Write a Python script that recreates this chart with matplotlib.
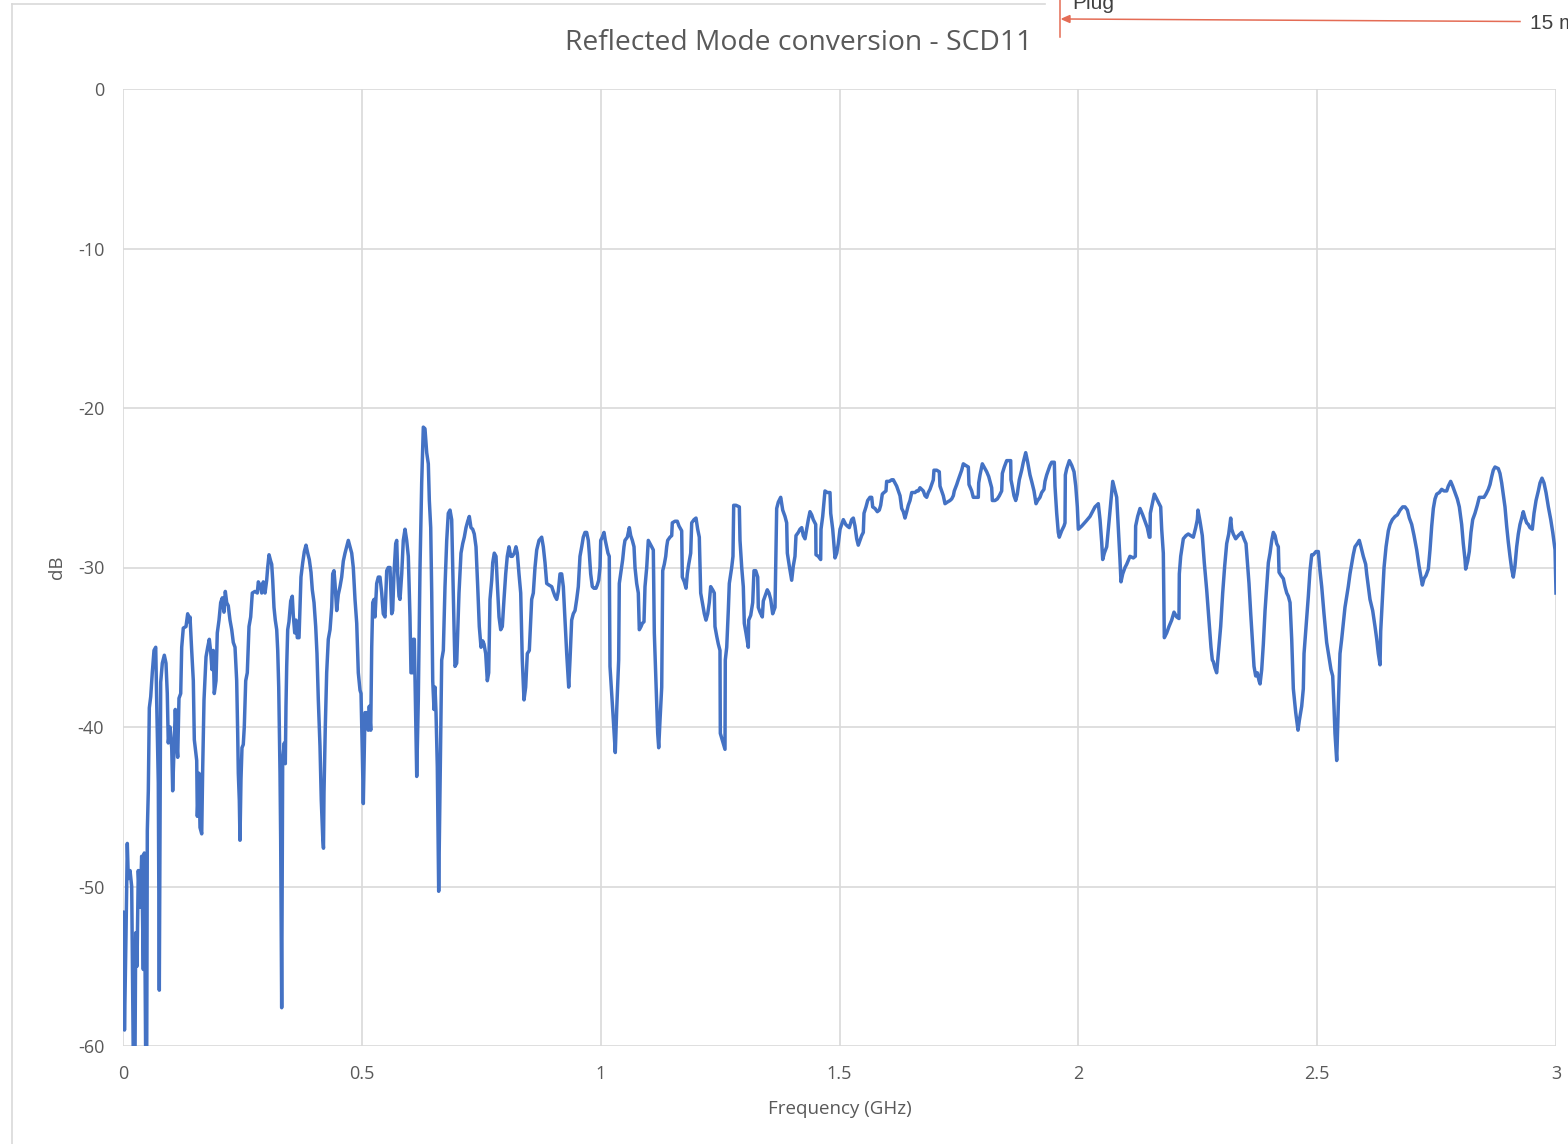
import numpy as np
import matplotlib
matplotlib.use("Agg")
import matplotlib.pyplot as plt
from matplotlib.lines import Line2D

plt.rcParams['font.family'] = ['Open Sans', 'DejaVu Sans']

# SCD11 sweep, split into 0.5 GHz bands (frequency in GHz, level in dB)
freq_1 = [0.0000, 0.0010, 0.0031, 0.0063, 0.0090, 0.0111, 0.0147, 0.0182, 0.0216, 0.0251,
          0.0266, 0.0293, 0.0320, 0.0356, 0.0391, 0.0425, 0.0446, 0.0475, 0.0496, 0.0509,
          0.0530, 0.0551, 0.0580, 0.0613, 0.0649, 0.0685, 0.0706, 0.0739, 0.0760, 0.0789,
          0.0823, 0.0865, 0.0900, 0.0927, 0.0948, 0.0984, 0.1020, 0.1040, 0.1068, 0.1095,
          0.1124, 0.1145, 0.1172, 0.1208, 0.1229, 0.1262, 0.1319, 0.1354, 0.1382, 0.1403,
          0.1438, 0.1472, 0.1493, 0.1543, 0.1556, 0.1591, 0.1612, 0.1648, 0.1669, 0.1696,
          0.1738, 0.1773, 0.1807, 0.1836, 0.1863, 0.1890, 0.1911, 0.1947, 0.1974, 0.2010,
          0.2045, 0.2079, 0.2114, 0.2142, 0.2171, 0.2204, 0.2240, 0.2276, 0.2309, 0.2345,
          0.2380, 0.2401, 0.2414, 0.2435, 0.2449, 0.2470, 0.2491, 0.2518, 0.2539, 0.2569,
          0.2602, 0.2638, 0.2673, 0.2707, 0.2763, 0.2812, 0.2833, 0.2883, 0.2904, 0.2937,
          0.2973, 0.3008, 0.3029, 0.3057, 0.3092, 0.3113, 0.3134, 0.3161, 0.3188, 0.3218,
          0.3239, 0.3260, 0.3272, 0.3287, 0.3301, 0.3322, 0.3343, 0.3377, 0.3398, 0.3412,
          0.3427, 0.3448, 0.3475, 0.3511, 0.3544, 0.3565, 0.3595, 0.3622, 0.3649, 0.3685,
          0.3705, 0.3726, 0.3762, 0.3796, 0.3831, 0.3867, 0.3900, 0.3936, 0.3963, 0.3999,
          0.4034, 0.4061, 0.4089, 0.4124, 0.4151, 0.4181, 0.4197, 0.4208, 0.4235, 0.4264,
          0.4298, 0.4334, 0.4369, 0.4390, 0.4417, 0.4438, 0.4474, 0.4507, 0.4543, 0.4578,
          0.4612, 0.4648, 0.4683, 0.4717, 0.4752, 0.4788, 0.4821, 0.4857, 0.4893, 0.4926,
          0.4962, 0.4983]
db_1 = [-58.2, -51.6, -59.0, -53.0, -47.3, -49.5, -49.0, -50.0, -61.0, -61.0,
        -52.9, -55.0, -49.0, -51.3, -48.1, -55.2, -47.9, -61.0, -61.0, -46.5,
        -44.0, -38.8, -38.1, -36.6, -35.2, -35.0, -38.5, -43.5, -56.5, -37.2,
        -36.0, -35.5, -36.0, -37.9, -41.0, -40.0, -41.3, -44.0, -41.4, -38.9,
        -41.0, -41.9, -38.2, -37.9, -35.0, -33.8, -33.7, -32.9, -33.4, -33.1,
        -35.2, -37.1, -40.8, -42.1, -45.6, -42.9, -46.3, -46.7, -42.5, -38.3,
        -35.6, -35.0, -34.5, -35.3, -36.4, -35.2, -37.9, -37.1, -34.1, -33.3,
        -32.2, -31.9, -32.8, -31.5, -32.2, -32.4, -33.3, -33.9, -34.7, -35.0,
        -37.1, -40.4, -42.9, -44.6, -47.1, -43.3, -41.3, -41.1, -40.0, -37.1,
        -36.6, -33.7, -33.1, -31.6, -31.5, -31.6, -30.9, -31.2, -31.6, -30.9,
        -31.6, -30.8, -30.0, -29.2, -29.6, -29.8, -30.8, -32.5, -33.3, -33.9,
        -35.2, -37.5, -40.0, -42.9, -47.1, -57.6, -42.1, -41.0, -42.3, -38.7,
        -36.2, -33.9, -33.4, -32.1, -31.8, -33.0, -34.1, -33.3, -34.4, -34.4,
        -32.5, -30.6, -29.7, -29.0, -28.6, -29.1, -29.5, -30.3, -31.4, -32.2,
        -33.7, -35.4, -38.3, -41.2, -44.6, -46.9, -47.6, -44.1, -40.0, -36.6,
        -34.5, -33.9, -32.5, -30.4, -30.2, -31.0, -32.7, -31.7, -31.2, -30.6,
        -29.6, -29.1, -28.7, -28.3, -28.7, -29.1, -30.0, -32.0, -33.5, -36.6,
        -37.7, -37.9]

freq_2 = [0.5010, 0.5031, 0.5066, 0.5102, 0.5135, 0.5156, 0.5186, 0.5207, 0.5228, 0.5255,
          0.5276, 0.5311, 0.5345, 0.5380, 0.5416, 0.5449, 0.5485, 0.5521, 0.5554, 0.5590,
          0.5625, 0.5646, 0.5673, 0.5709, 0.5730, 0.5751, 0.5778, 0.5799, 0.5835, 0.5868,
          0.5904, 0.5939, 0.5973, 0.6008, 0.6029, 0.6057, 0.6078, 0.6099, 0.6149, 0.6182,
          0.6218, 0.6253, 0.6287, 0.6322, 0.6358, 0.6392, 0.6413, 0.6442, 0.6463, 0.6484,
          0.6511, 0.6532, 0.6553, 0.6580, 0.6609, 0.6672, 0.6706, 0.6741, 0.6777, 0.6810,
          0.6846, 0.6881, 0.6902, 0.6930, 0.6950, 0.6986, 0.7007, 0.7034, 0.7076, 0.7112,
          0.7145, 0.7181, 0.7217, 0.7250, 0.7285, 0.7321, 0.7354, 0.7390, 0.7426, 0.7459,
          0.7495, 0.7530, 0.7558, 0.7593, 0.7627, 0.7656, 0.7683, 0.7719, 0.7740, 0.7773,
          0.7809, 0.7836, 0.7872, 0.7907, 0.7941, 0.7976, 0.8012, 0.8045, 0.8081, 0.8117,
          0.8150, 0.8192, 0.8227, 0.8255, 0.8290, 0.8326, 0.8359, 0.8395, 0.8430, 0.8464,
          0.8506, 0.8556, 0.8590, 0.8625, 0.8661, 0.8709, 0.8765, 0.8799, 0.8835, 0.8870,
          0.8918, 0.8975, 0.9008, 0.9044, 0.9080, 0.9113, 0.9149, 0.9184, 0.9218, 0.9253,
          0.9289, 0.9331, 0.9358, 0.9393, 0.9427, 0.9463, 0.9498, 0.9532, 0.9567, 0.9603,
          0.9636, 0.9672, 0.9707, 0.9741, 0.9762, 0.9791, 0.9825, 0.9860, 0.9902, 0.9929,
          0.9959, 0.9986]
db_2 = [-41.6, -44.8, -39.1, -39.1, -40.2, -38.7, -40.2, -35.0, -32.2, -32.0,
        -33.1, -31.0, -30.6, -30.6, -31.6, -32.9, -33.1, -30.2, -30.0, -30.0,
        -32.9, -32.7, -30.4, -28.5, -28.3, -30.4, -31.8, -32.0, -30.4, -28.3,
        -27.6, -28.3, -29.3, -33.1, -36.6, -36.6, -34.5, -34.5, -43.1, -38.3,
        -30.0, -24.7, -21.2, -21.3, -22.8, -23.5, -25.8, -27.5, -31.6, -37.1,
        -38.9, -37.5, -39.1, -42.5, -50.3, -35.8, -35.2, -31.2, -28.3, -26.6,
        -26.4, -27.0, -30.0, -33.7, -36.2, -36.0, -34.0, -31.6, -29.1, -28.5,
        -28.1, -27.5, -27.1, -26.8, -27.5, -27.6, -27.9, -28.7, -31.2, -33.7,
        -35.0, -34.6, -34.8, -35.4, -37.1, -36.6, -32.0, -30.8, -29.7, -29.1,
        -29.3, -31.0, -33.1, -33.9, -33.7, -32.0, -30.4, -29.3, -28.7, -29.3,
        -29.3, -29.1, -28.7, -29.1, -30.4, -31.6, -35.8, -38.3, -37.5, -35.4,
        -35.2, -32.0, -31.6, -30.0, -28.9, -28.3, -28.1, -28.7, -29.7, -31.0,
        -31.1, -31.2, -31.5, -31.8, -32.0, -31.5, -30.4, -30.4, -31.2, -33.3,
        -35.4, -37.5, -35.8, -33.3, -32.9, -32.7, -32.0, -31.2, -29.3, -28.7,
        -28.1, -27.8, -27.8, -28.3, -29.1, -30.4, -31.2, -31.3, -31.3, -31.1,
        -30.8, -30.0]

freq_3 = [1.0001, 1.0034, 1.0070, 1.0097, 1.0126, 1.0153, 1.0180, 1.0195, 1.0231, 1.0264,
          1.0306, 1.0336, 1.0377, 1.0390, 1.0419, 1.0461, 1.0488, 1.0509, 1.0558, 1.0600,
          1.0629, 1.0663, 1.0698, 1.0719, 1.0754, 1.0788, 1.0809, 1.0845, 1.0872, 1.0907,
          1.0928, 1.0964, 1.0997, 1.1033, 1.1068, 1.1102, 1.1123, 1.1158, 1.1194, 1.1215,
          1.1242, 1.1278, 1.1299, 1.1332, 1.1362, 1.1382, 1.1403, 1.1451, 1.1487, 1.1500,
          1.1556, 1.1604, 1.1640, 1.1696, 1.1709, 1.1751, 1.1787, 1.1814, 1.1843, 1.1885,
          1.1906, 1.1954, 1.1996, 1.2031, 1.2065, 1.2094, 1.2136, 1.2170, 1.2205, 1.2241,
          1.2274, 1.2303, 1.2345, 1.2379, 1.2393, 1.2429, 1.2463, 1.2498, 1.2505, 1.2555,
          1.2603, 1.2609, 1.2639, 1.2672, 1.2693, 1.2743, 1.2770, 1.2785, 1.2833, 1.2903,
          1.2917, 1.2953, 1.2986, 1.3007, 1.3042, 1.3091, 1.3099, 1.3141, 1.3183, 1.3210,
          1.3246, 1.3288, 1.3300, 1.3336, 1.3384, 1.3405, 1.3440, 1.3488, 1.3524, 1.3560,
          1.3601, 1.3650, 1.3685, 1.3719, 1.3769, 1.3811, 1.3859, 1.3894, 1.3908, 1.3949,
          1.3999, 1.4033, 1.4068, 1.4089, 1.4138, 1.4173, 1.4209, 1.4242, 1.4278, 1.4313,
          1.4347, 1.4382, 1.4418, 1.4451, 1.4502, 1.4508, 1.4557, 1.4606, 1.4613, 1.4648,
          1.4696, 1.4745, 1.4801, 1.4816, 1.4858, 1.4906, 1.4942, 1.4975]
db_3 = [-28.3, -28.1, -27.8, -28.3, -28.7, -29.1, -29.3, -36.2, -37.9, -39.5,
        -41.6, -38.9, -35.8, -31.0, -30.4, -29.5, -28.7, -28.3, -28.1, -27.5,
        -28.0, -28.3, -28.7, -30.0, -31.0, -31.6, -33.9, -33.7, -33.5, -33.4,
        -31.2, -30.0, -28.3, -28.5, -28.7, -28.9, -34.1, -37.3, -40.4, -41.3,
        -39.6, -37.5, -30.2, -29.8, -29.3, -28.7, -28.3, -28.1, -28.0, -27.2,
        -27.1, -27.1, -27.4, -27.7, -30.6, -30.9, -31.3, -30.4, -29.8, -29.1,
        -27.2, -27.0, -26.9, -27.6, -28.1, -31.6, -32.3, -32.9, -33.3, -32.9,
        -32.2, -31.2, -31.4, -31.6, -33.7, -34.3, -34.8, -35.2, -40.4, -40.9,
        -41.4, -35.8, -35.0, -32.7, -31.0, -30.0, -29.3, -26.1, -26.1, -26.2,
        -28.3, -30.0, -31.2, -33.5, -34.1, -35.0, -33.3, -33.0, -32.2, -30.2,
        -30.2, -30.6, -32.5, -32.8, -33.1, -32.1, -31.8, -31.4, -31.6, -32.0,
        -32.9, -32.5, -26.3, -25.9, -25.6, -26.4, -26.8, -27.2, -29.1, -29.9,
        -30.8, -29.9, -29.3, -28.0, -27.8, -27.6, -27.5, -28.0, -28.2, -27.6,
        -27.0, -26.5, -26.7, -27.0, -27.3, -29.2, -29.3, -29.5, -27.6, -26.8,
        -25.2, -25.3, -25.3, -26.6, -27.6, -29.4, -29.1, -28.5]

freq_4 = [1.5011, 1.5046, 1.5080, 1.5130, 1.5163, 1.5205, 1.5255, 1.5289, 1.5324, 1.5360,
          1.5393, 1.5429, 1.5464, 1.5498, 1.5513, 1.5555, 1.5590, 1.5638, 1.5674, 1.5695,
          1.5743, 1.5792, 1.5833, 1.5862, 1.5896, 1.5931, 1.5973, 1.5987, 1.6043, 1.6093,
          1.6126, 1.6162, 1.6197, 1.6231, 1.6267, 1.6302, 1.6336, 1.6371, 1.6407, 1.6440,
          1.6476, 1.6512, 1.6581, 1.6616, 1.6650, 1.6685, 1.6721, 1.6754, 1.6790, 1.6825,
          1.6859, 1.6894, 1.6930, 1.6964, 1.6978, 1.7035, 1.7089, 1.7104, 1.7139, 1.7173,
          1.7209, 1.7257, 1.7313, 1.7349, 1.7383, 1.7403, 1.7454, 1.7487, 1.7523, 1.7558,
          1.7592, 1.7642, 1.7697, 1.7711, 1.7767, 1.7801, 1.7858, 1.7906, 1.7914, 1.7941,
          1.7990, 1.8046, 1.8082, 1.8124, 1.8151, 1.8186, 1.8200, 1.8255, 1.8304, 1.8346,
          1.8395, 1.8409, 1.8450, 1.8500, 1.8548, 1.8584, 1.8590, 1.8617, 1.8653, 1.8689,
          1.8722, 1.8764, 1.8814, 1.8848, 1.8898, 1.8940, 1.8988, 1.9023, 1.9072, 1.9114,
          1.9149, 1.9197, 1.9233, 1.9281, 1.9302, 1.9337, 1.9371, 1.9407, 1.9442, 1.9497,
          1.9511, 1.9547, 1.9580, 1.9601, 1.9651, 1.9700, 1.9721, 1.9728, 1.9757, 1.9812,
          1.9862, 1.9910, 1.9946, 1.9979]
db_4 = [-27.6, -27.3, -27.0, -27.3, -27.4, -27.5, -27.0, -26.9, -27.4, -28.2,
        -28.6, -28.3, -28.0, -27.8, -26.6, -26.2, -25.8, -25.6, -25.6, -26.2,
        -26.3, -26.5, -26.4, -26.1, -25.4, -25.3, -25.2, -24.6, -24.6, -24.5,
        -24.5, -24.7, -24.9, -25.2, -25.5, -26.3, -26.5, -26.9, -26.5, -26.1,
        -25.8, -25.3, -25.3, -25.2, -25.2, -25.0, -25.1, -25.2, -25.5, -25.6,
        -25.3, -25.1, -24.8, -24.5, -23.9, -23.9, -24.0, -24.9, -25.2, -25.5,
        -26.0, -25.9, -25.8, -25.7, -25.5, -25.2, -24.8, -24.5, -24.2, -23.9,
        -23.5, -23.6, -23.7, -24.8, -25.2, -25.6, -25.6, -25.6, -24.7, -24.2,
        -23.5, -23.8, -24.0, -24.3, -24.6, -25.0, -25.8, -25.8, -25.7, -25.5,
        -25.2, -24.1, -23.7, -23.3, -23.3, -23.3, -24.5, -24.9, -25.5, -25.8,
        -25.4, -24.5, -23.9, -23.4, -22.8, -23.4, -24.2, -24.6, -25.2, -26.0,
        -25.8, -25.6, -25.3, -25.1, -24.6, -24.2, -23.9, -23.6, -23.4, -23.4,
        -24.9, -26.6, -27.8, -28.1, -27.7, -27.4, -27.2, -24.2, -23.8, -23.3,
        -23.6, -24.0, -24.9, -26.2]

freq_5 = [2.0000, 2.0071, 2.0160, 2.0244, 2.0349, 2.0418, 2.0454, 2.0489, 2.0510, 2.0544,
          2.0594, 2.0628, 2.0663, 2.0720, 2.0753, 2.0803, 2.0837, 2.0872, 2.0893, 2.0929,
          2.0977, 2.1012, 2.1081, 2.1151, 2.1193, 2.1200, 2.1242, 2.1291, 2.1347, 2.1395,
          2.1444, 2.1486, 2.1500, 2.1507, 2.1549, 2.1591, 2.1640, 2.1674, 2.1724, 2.1745,
          2.1779, 2.1800, 2.1850, 2.1898, 2.1954, 2.2003, 2.2059, 2.2107, 2.2114, 2.2143,
          2.2198, 2.2254, 2.2302, 2.2352, 2.2407, 2.2457, 2.2491, 2.2505, 2.2547, 2.2595,
          2.2637, 2.2687, 2.2735, 2.2777, 2.2805, 2.2826, 2.2861, 2.2896, 2.2930, 2.2980,
          2.3022, 2.3064, 2.3106, 2.3148, 2.3190, 2.3211, 2.3244, 2.3294, 2.3349, 2.3420,
          2.3468, 2.3510, 2.3525, 2.3573, 2.3609, 2.3642, 2.3678, 2.3713, 2.3747, 2.3783,
          2.3804, 2.3839, 2.3873, 2.3909, 2.3944, 2.3978, 2.4013, 2.4049, 2.4082, 2.4118,
          2.4153, 2.4187, 2.4202, 2.4244, 2.4292, 2.4327, 2.4363, 2.4396, 2.4432, 2.4467,
          2.4501, 2.4551, 2.4599, 2.4626, 2.4676, 2.4710, 2.4725, 2.4767, 2.4815, 2.4850,
          2.4886, 2.4919, 2.4976]
db_5 = [-27.6, -27.4, -27.1, -26.8, -26.2, -26.0, -27.0, -28.4, -29.5, -29.1,
        -28.7, -27.6, -26.4, -24.6, -25.0, -25.6, -27.5, -29.5, -30.9, -30.4,
        -30.0, -29.8, -29.3, -29.4, -29.3, -27.4, -26.8, -26.3, -26.7, -27.1,
        -27.5, -28.1, -28.1, -26.6, -26.0, -25.4, -25.7, -25.9, -26.2, -27.6,
        -29.1, -34.4, -34.1, -33.7, -33.3, -32.8, -33.1, -33.2, -30.4, -29.3,
        -28.2, -28.0, -27.9, -28.0, -28.1, -27.5, -27.0, -26.4, -27.1, -28.0,
        -29.7, -31.4, -33.3, -35.0, -35.8, -35.9, -36.3, -36.6, -35.4, -33.7,
        -31.6, -29.9, -28.5, -27.9, -26.9, -27.6, -27.9, -28.2, -28.0, -27.8,
        -28.2, -28.5, -29.1, -31.0, -32.9, -34.5, -36.2, -36.8, -36.6, -37.1,
        -37.3, -36.4, -34.8, -32.7, -31.2, -29.7, -29.1, -28.3, -27.8, -28.0,
        -28.5, -28.7, -30.3, -30.5, -30.7, -31.2, -31.6, -31.8, -32.2, -34.5,
        -37.6, -39.1, -40.2, -39.6, -38.7, -37.6, -35.4, -33.7, -31.8, -30.2,
        -29.2, -29.2, -29.0]

freq_6 = [2.5024, 2.5059, 2.5095, 2.5143, 2.5199, 2.5247, 2.5289, 2.5325, 2.5352, 2.5373,
          2.5409, 2.5442, 2.5478, 2.5513, 2.5547, 2.5582, 2.5618, 2.5651, 2.5687, 2.5722,
          2.5756, 2.5792, 2.5840, 2.5882, 2.5917, 2.5966, 2.6016, 2.6037, 2.6071, 2.6106,
          2.6162, 2.6211, 2.6247, 2.6280, 2.6316, 2.6330, 2.6364, 2.6400, 2.6442, 2.6490,
          2.6526, 2.6574, 2.6631, 2.6679, 2.6735, 2.6791, 2.6839, 2.6888, 2.6930, 2.6979,
          2.7028, 2.7084, 2.7132, 2.7174, 2.7202, 2.7237, 2.7279, 2.7327, 2.7362, 2.7398,
          2.7432, 2.7467, 2.7503, 2.7557, 2.7607, 2.7655, 2.7712, 2.7745, 2.7795, 2.7837,
          2.7886, 2.7934, 2.7976, 2.8025, 2.8059, 2.8095, 2.8109, 2.8151, 2.8185, 2.8220,
          2.8256, 2.8304, 2.8352, 2.8394, 2.8444, 2.8492, 2.8534, 2.8583, 2.8618, 2.8654,
          2.8687, 2.8723, 2.8792, 2.8827, 2.8863, 2.8896, 2.8932, 2.8967, 2.9001, 2.9037,
          2.9072, 2.9106, 2.9141, 2.9177, 2.9211, 2.9246, 2.9282, 2.9315, 2.9351, 2.9386,
          2.9420, 2.9455, 2.9504, 2.9540, 2.9582, 2.9630, 2.9665, 2.9707, 2.9749, 2.9791,
          2.9840, 2.9890, 2.9932, 2.9980, 3.0000]
db_6 = [-29.0, -30.2, -31.2, -32.9, -34.7, -35.6, -36.4, -36.8, -38.7, -40.4,
        -42.1, -38.7, -35.4, -34.5, -33.5, -32.5, -31.8, -31.2, -30.4, -29.8,
        -29.2, -28.7, -28.5, -28.3, -28.7, -29.3, -29.8, -30.4, -31.2, -32.0,
        -32.7, -33.7, -34.5, -35.4, -36.1, -34.0, -32.0, -30.0, -28.7, -27.7,
        -27.3, -27.0, -26.8, -26.7, -26.4, -26.2, -26.2, -26.4, -26.9, -27.3,
        -28.0, -28.9, -29.9, -30.6, -31.1, -30.7, -30.5, -30.1, -28.9, -27.4,
        -26.3, -25.7, -25.4, -25.3, -25.1, -25.2, -25.2, -24.9, -24.6, -24.9,
        -25.3, -25.7, -26.2, -27.3, -28.5, -29.5, -30.1, -29.6, -29.0, -27.8,
        -27.0, -26.6, -26.1, -25.6, -25.6, -25.6, -25.4, -25.1, -24.8, -24.3,
        -23.9, -23.7, -23.8, -24.1, -24.7, -25.4, -26.2, -27.4, -28.4, -29.3,
        -30.1, -30.6, -29.9, -28.7, -27.9, -27.3, -26.9, -26.5, -26.9, -27.2,
        -27.3, -27.5, -27.6, -26.6, -25.8, -25.2, -24.7, -24.4, -24.7, -25.3,
        -26.2, -27.0, -27.8, -28.9, -31.6]

x_ticks = [0, 0.5, 1, 1.5, 2, 2.5, 3]
x_tick_labels = ['0', '0.5', '1', '1.5', '2', '2.5', '3']
y_ticks = [0, -10, -20, -30, -40, -50, -60]
y_tick_labels = ['0', '-10', '-20', '-30', '-40', '-50', '-60']

freq = np.concatenate([freq_1, freq_2, freq_3, freq_4, freq_5, freq_6])
db = np.concatenate([db_1, db_2, db_3, db_4, db_5, db_6])

W, H = 1568, 1144
fig = plt.figure(figsize=(W / 100, H / 100), dpi=100)
fig.patch.set_facecolor('white')

ax = fig.add_axes([123 / W, 1 - 1046 / H, (1556 - 123) / W, (1046 - 89) / H])
ax.plot(freq, db, color='#4472C4', lw=2.5, solid_joinstyle='round')
ax.set_xlim(0, 3)
ax.set_ylim(-60, 0)
ax.set_xticks(x_ticks)
ax.set_xticklabels(x_tick_labels)
ax.set_yticks(y_ticks)
ax.set_yticklabels(y_tick_labels)
ax.grid(True, color='#D9D9D9', lw=1.2)
ax.set_axisbelow(True)
for s in ax.spines.values():
    s.set_visible(False)
ax.tick_params(length=0, labelsize=13, labelcolor='#595959', pad=13.5)

ax.set_xlabel('Frequency (GHz)', fontsize=13.5, color='#595959', va='center')
ax.xaxis.set_label_coords(0.5, -63 / 957)
ax.set_ylabel('dB', fontsize=13.5, color='#595959', va='center')
ax.yaxis.set_label_coords(-66 / 1433, 0.5)

fig.text(799 / W, 1 - 43 / H, 'Reflected Mode conversion - SCD11',
         ha='center', va='center', fontsize=20.3, color='#595959')

# chart frame (top and left edges)
frame = '#D9D9D9'
fig.add_artist(Line2D([12 / W, 1045 / W], [1 - 4 / H, 1 - 4 / H], color=frame, lw=1.2))
fig.add_artist(Line2D([12 / W, 12 / W], [1 - 4 / H, 0], color=frame, lw=1.2))

# dimension callout above the chart
red = '#E46C55'
fig.add_artist(Line2D([1060 / W, 1060 / W], [1.0, 1 - 37 / H], color=red, lw=1.1))
fig.add_artist(Line2D([1066 / W, 1520 / W], [1 - 19 / H, 1 - 21.5 / H], color=red, lw=1.1))
fig.add_artist(plt.Polygon([[1062 / W, 1 - 19 / H], [1070 / W, 1 - 15.5 / H],
                            [1070 / W, 1 - 22.5 / H]], closed=True, color=red,
                           transform=fig.transFigure))
fig.text(1072 / W, 1 - 9 / H, 'Plug', ha='left', va='baseline', fontsize=15,
         color='#404040', family=['Liberation Sans', 'DejaVu Sans'])
fig.text(1530 / W, 1 - 29 / H, '15 m', ha='left', va='baseline', fontsize=15,
         color='#404040', family=['Liberation Sans', 'DejaVu Sans'])

fig.savefig('out.png', dpi=100, facecolor='white')
